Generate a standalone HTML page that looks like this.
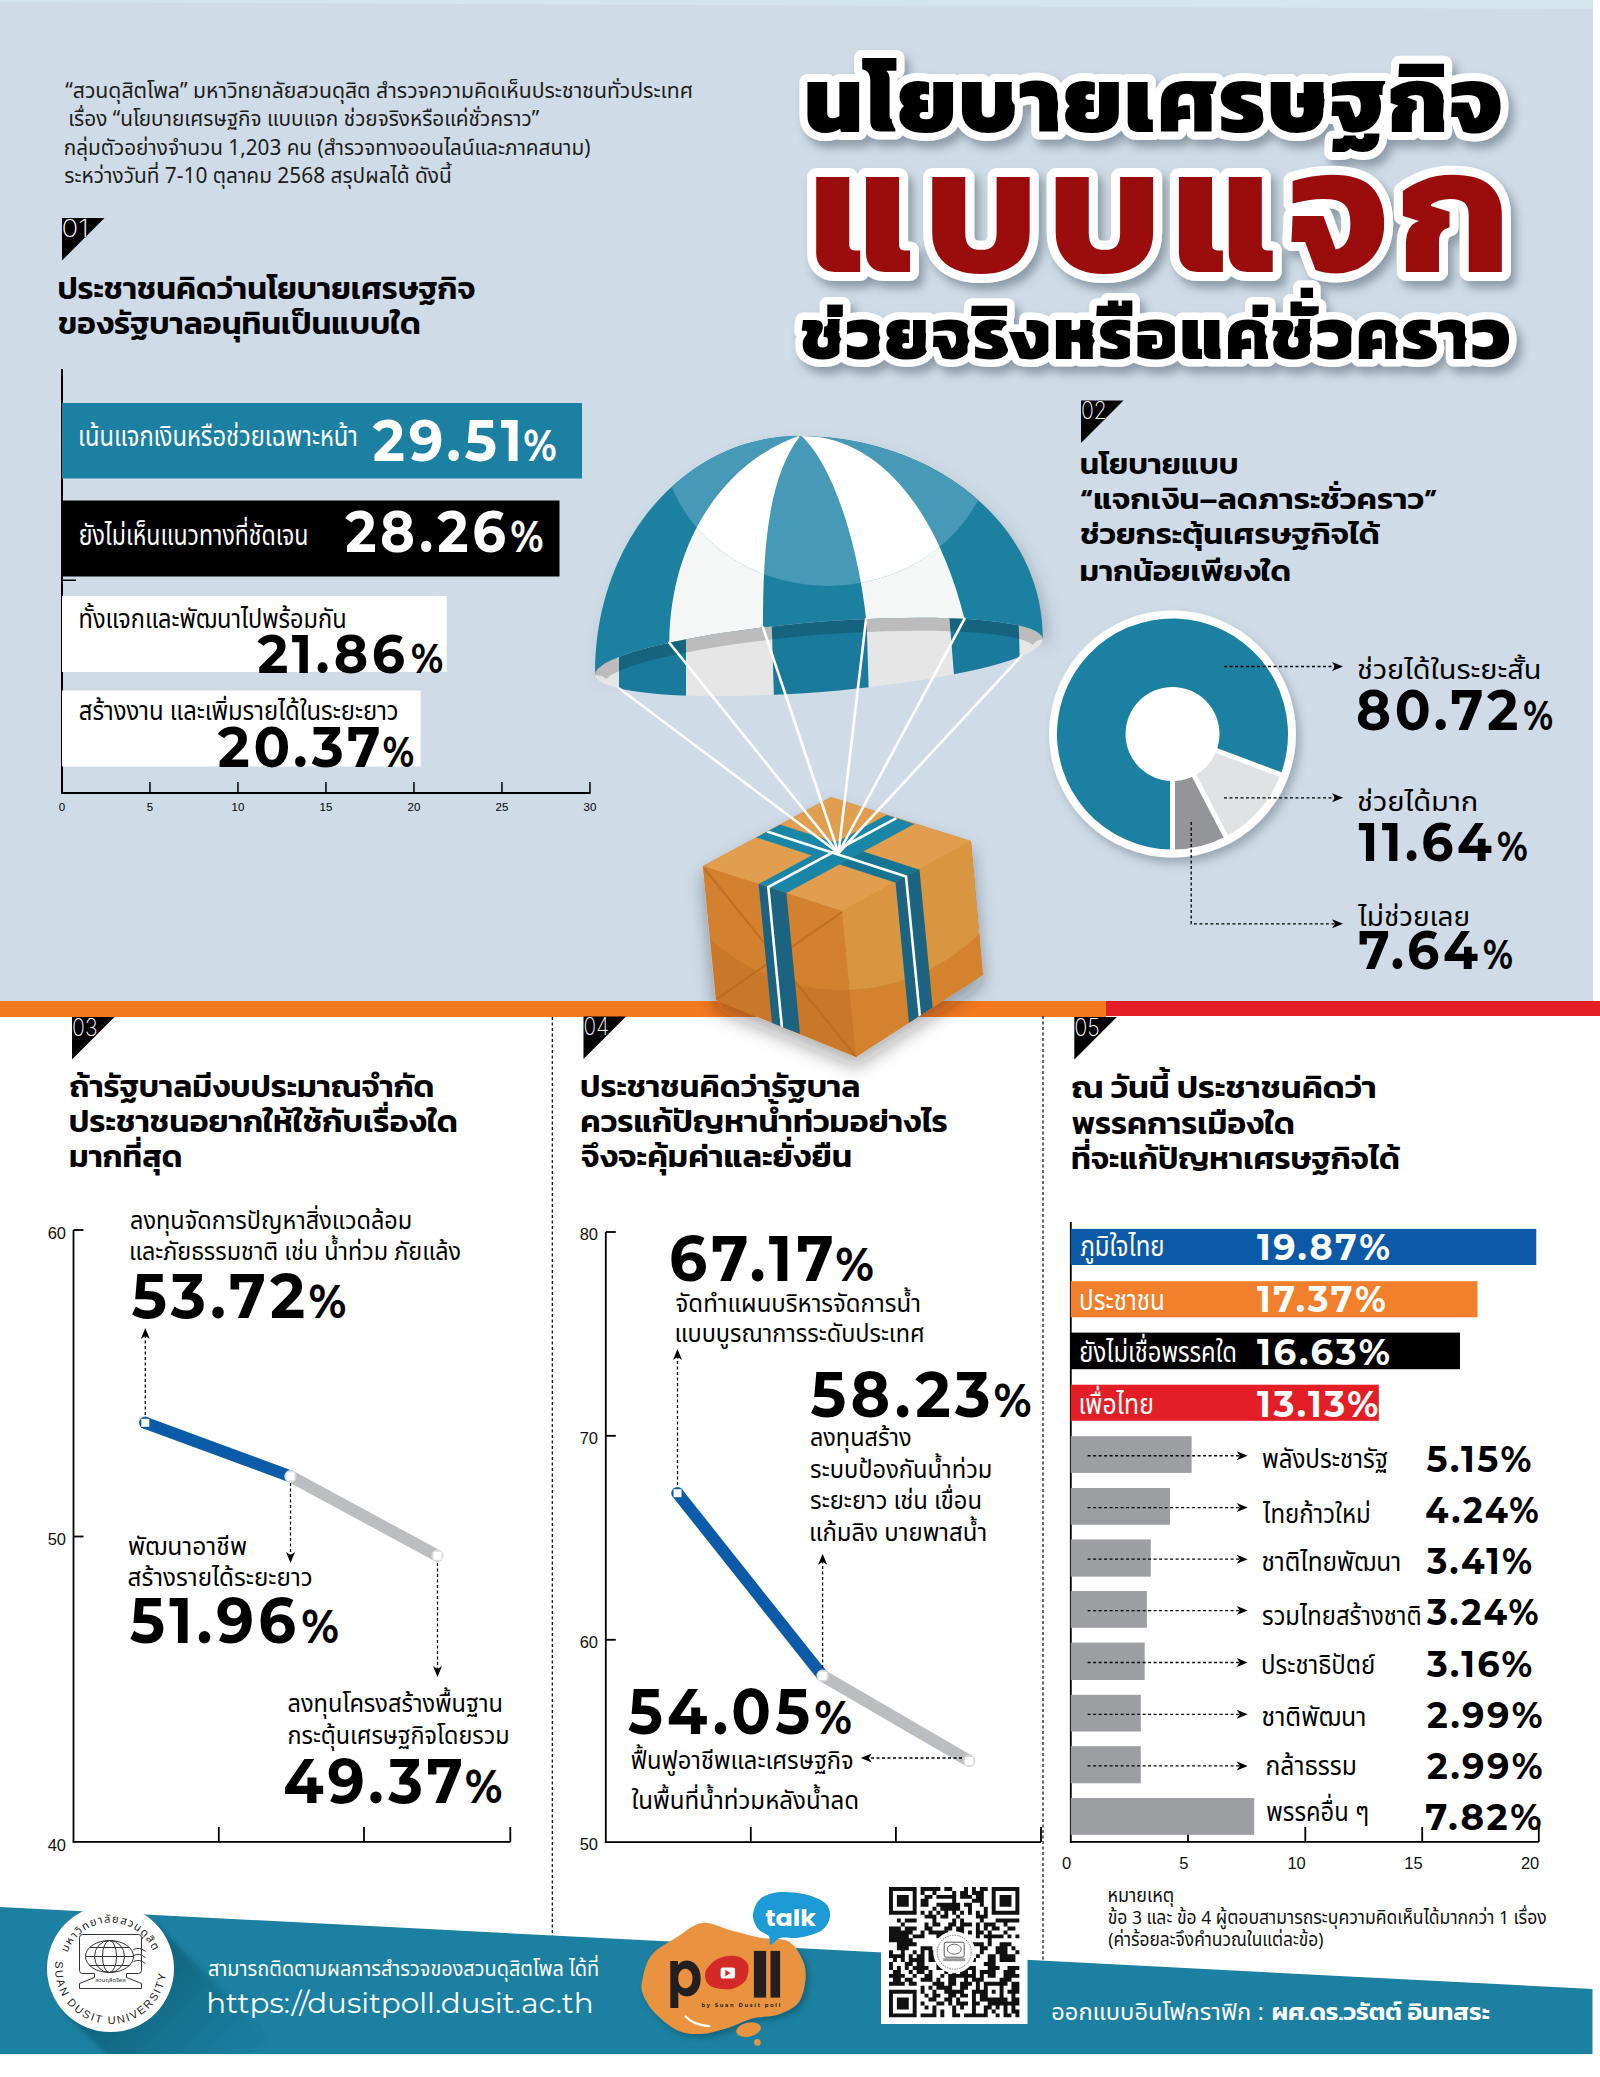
<!DOCTYPE html>
<html lang="th"><head><meta charset="utf-8"><title>นโยบายเศรษฐกิจแบบแจก ช่วยจริงหรือแค่ชั่วคราว</title>
<style>html,body{margin:0;padding:0;background:#fff}svg{display:block}</style></head>
<body><svg width="1600" height="2077" viewBox="0 0 1600 2077">
<defs>
<filter id="tsh" x="-10%" y="-30%" width="120%" height="160%"><feDropShadow dx="5" dy="7" stdDeviation="5" flood-color="#3c4a5a" flood-opacity="0.45"/></filter>
<filter id="dsh" x="-20%" y="-20%" width="150%" height="150%"><feDropShadow dx="4" dy="6" stdDeviation="5" flood-color="#3c4a5a" flood-opacity="0.35"/></filter>
<filter id="psh" x="-20%" y="-20%" width="150%" height="150%"><feDropShadow dx="6" dy="10" stdDeviation="8" flood-color="#3c4a5a" flood-opacity="0.3"/></filter>
<filter id="bsh" x="-30%" y="-30%" width="160%" height="160%"><feDropShadow dx="0" dy="10" stdDeviation="9" flood-color="#1c1c1c" flood-opacity="0.35"/></filter>
<filter id="lsh2" x="-20%" y="-20%" width="150%" height="150%"><feDropShadow dx="3" dy="3" stdDeviation="3" flood-color="#000" flood-opacity="0.25"/></filter>
</defs>
<rect x="0" y="0" width="1600" height="2077" fill="#ffffff"/>
<rect x="0" y="0" width="1593" height="1001" fill="#cfdce7"/>
<polygon points="0,0 1593,0 1593,9 0,2" fill="#d4e5ed"/>
<polygon points="62,218 104.5,218 62,260.5" fill="#000"/>
<rect x="61" y="369" width="2" height="425" fill="#000"/>
<rect x="61" y="792" width="529.5" height="2" fill="#000"/>
<rect x="61" y="579.5" width="15" height="1.5" fill="#000"/>
<rect x="61.2" y="782" width="1.5" height="11" fill="#000"/>
<rect x="149.2" y="782" width="1.5" height="11" fill="#000"/>
<rect x="237.2" y="782" width="1.5" height="11" fill="#000"/>
<rect x="325.2" y="782" width="1.5" height="11" fill="#000"/>
<rect x="413.2" y="782" width="1.5" height="11" fill="#000"/>
<rect x="501.2" y="782" width="1.5" height="11" fill="#000"/>
<rect x="589.2" y="782" width="1.5" height="11" fill="#000"/>
<rect x="62" y="403" width="520" height="75.5" fill="#1b80a1"/>
<rect x="62" y="500.5" width="497.5" height="76" fill="#000"/>
<rect x="62" y="596" width="384.7" height="76" fill="#fff"/>
<rect x="62" y="690.5" width="358.6" height="76" fill="#fff"/>
<polygon points="1081,400.5 1123.5,400.5 1081,443.0" fill="#000"/>
<circle cx="1172.5" cy="734" r="123.5" fill="#fff" filter="url(#dsh)"/>
<path d="M1172.50,849.50 A115.5,115.5 0 1 1 1280.62,774.62 L1172.50,734.00 A0,0 0 1 0 1172.50,734.00 Z" fill="#1b80a1"/>
<path d="M1280.62,774.62 A115.5,115.5 0 0 1 1225.84,836.45 L1172.50,734.00 A0,0 0 0 0 1172.50,734.00 Z" fill="#e1e2e4"/>
<path d="M1225.84,836.45 A115.5,115.5 0 0 1 1172.50,849.50 L1172.50,734.00 A0,0 0 0 0 1172.50,734.00 Z" fill="#949599"/>
<line x1="1172.5" y1="734" x2="1172.50" y2="854.00" stroke="#fff" stroke-width="5"/>
<line x1="1172.5" y1="734" x2="1284.83" y2="776.21" stroke="#fff" stroke-width="5"/>
<line x1="1172.5" y1="734" x2="1227.92" y2="840.44" stroke="#fff" stroke-width="5"/>
<circle cx="1172.5" cy="734" r="47" fill="#fff"/>
<line x1="1224" y1="666.5" x2="1335" y2="666.5" stroke="#000" stroke-width="1.3" stroke-dasharray="3 2.5"/>
<polygon points="1343,666.5 1332,662.0 1335,666.5 1332,671.0" fill="#000"/>
<line x1="1224" y1="797.8" x2="1335" y2="797.8" stroke="#000" stroke-width="1.3" stroke-dasharray="3 2.5"/>
<polygon points="1343,797.8 1332,793.3 1335,797.8 1332,802.3" fill="#000"/>
<polyline points="1191.2,822 1191.2,923.8 1335,923.8" fill="none" stroke="#000" stroke-width="1.3" stroke-dasharray="3 2.5"/>
<polygon points="1343,923.8 1332,919.3 1335,923.8 1332,928.3" fill="#000"/>
<g filter="url(#psh)">
<defs><clipPath id="domeclip"><path d="M595.2,675.0 C594.2,541.2 684.7,436.0 798.5,436.0 C935.3,436.0 1043.8,525.3 1042.8,639.0 L1042.8,639.0 L1041.9,636.3 L1039.6,633.8 L1035.9,631.3 L1031.0,629.1 L1024.7,627.0 L1017.1,625.1 L1008.3,623.4 L998.4,621.9 L987.3,620.7 L975.2,619.6 L962.2,618.8 L948.3,618.2 L933.5,617.8 L918.1,617.7 L902.0,617.9 L885.5,618.3 L868.5,618.9 L851.2,619.7 L833.8,620.8 L816.2,622.1 L798.6,623.6 L781.2,625.4 L764.0,627.3 L747.2,629.4 L730.8,631.7 L714.9,634.1 L699.7,636.7 L685.2,639.4 L671.5,642.2 L658.8,645.1 L647.0,648.0 L636.3,651.1 L626.7,654.1 L618.3,657.2 L611.2,660.3 L605.3,663.3 L600.8,666.4 L597.5,669.3 L595.7,672.2 L595.2,675.0 Z"/></clipPath></defs>
<path d="M595.2,675.0 C594.2,541.2 684.7,436.0 798.5,436.0 C935.3,436.0 1043.8,525.3 1042.8,639.0 L1042.8,639.0 L1041.9,636.3 L1039.6,633.8 L1035.9,631.3 L1031.0,629.1 L1024.7,627.0 L1017.1,625.1 L1008.3,623.4 L998.4,621.9 L987.3,620.7 L975.2,619.6 L962.2,618.8 L948.3,618.2 L933.5,617.8 L918.1,617.7 L902.0,617.9 L885.5,618.3 L868.5,618.9 L851.2,619.7 L833.8,620.8 L816.2,622.1 L798.6,623.6 L781.2,625.4 L764.0,627.3 L747.2,629.4 L730.8,631.7 L714.9,634.1 L699.7,636.7 L685.2,639.4 L671.5,642.2 L658.8,645.1 L647.0,648.0 L636.3,651.1 L626.7,654.1 L618.3,657.2 L611.2,660.3 L605.3,663.3 L600.8,666.4 L597.5,669.3 L595.7,672.2 L595.2,675.0 Z" fill="#1b80a1"/>
</g>
<g clip-path="url(#domeclip)">
<path d="M798.5,436.0 C725,462 670,540 669.3,642.7 L763.0,627.4 C763,560 766,480 799.5,437.0 Z" fill="#f5f7f7"/>
<path d="M801.5,436.0 C838,470 860,560 866.1,619.0 L964.5,618.9 C945,540 900,450 818.5,437.0 Z" fill="#f5f7f7"/>
<clipPath id="hlc"><ellipse cx="828" cy="436" rx="166" ry="150"/></clipPath>
<g clip-path="url(#hlc)">
<path d="M595.2,675.0 C594.2,541.2 684.7,436.0 798.5,436.0 C935.3,436.0 1043.8,525.3 1042.8,639.0 L1042.8,639.0 L1041.9,636.3 L1039.6,633.8 L1035.9,631.3 L1031.0,629.1 L1024.7,627.0 L1017.1,625.1 L1008.3,623.4 L998.4,621.9 L987.3,620.7 L975.2,619.6 L962.2,618.8 L948.3,618.2 L933.5,617.8 L918.1,617.7 L902.0,617.9 L885.5,618.3 L868.5,618.9 L851.2,619.7 L833.8,620.8 L816.2,622.1 L798.6,623.6 L781.2,625.4 L764.0,627.3 L747.2,629.4 L730.8,631.7 L714.9,634.1 L699.7,636.7 L685.2,639.4 L671.5,642.2 L658.8,645.1 L647.0,648.0 L636.3,651.1 L626.7,654.1 L618.3,657.2 L611.2,660.3 L605.3,663.3 L600.8,666.4 L597.5,669.3 L595.7,672.2 L595.2,675.0 Z" fill="#4699b7"/>
<path d="M798.5,436.0 C725,462 670,540 669.3,642.7 L763.0,627.4 C763,560 766,480 799.5,437.0 Z" fill="#ffffff"/>
<path d="M801.5,436.0 C838,470 860,560 866.1,619.0 L964.5,618.9 C945,540 900,450 818.5,437.0 Z" fill="#ffffff"/>
</g>
</g>
<clipPath id="inclip"><path d="M1042.8,639.0 L1042.3,641.8 L1040.5,644.7 L1037.2,647.6 L1032.7,650.7 L1026.8,653.7 L1019.7,656.8 L1011.3,659.9 L1001.7,662.9 L991.0,666.0 L979.2,668.9 L966.5,671.8 L952.8,674.6 L938.3,677.3 L923.1,679.9 L907.2,682.3 L890.8,684.6 L874.0,686.7 L856.8,688.6 L839.4,690.4 L821.8,691.9 L804.2,693.2 L786.8,694.3 L769.5,695.1 L752.5,695.7 L736.0,696.1 L719.9,696.3 L704.5,696.2 L689.7,695.8 L675.8,695.2 L662.8,694.4 L650.7,693.3 L639.6,692.1 L629.7,690.6 L620.9,688.9 L613.3,687.0 L607.0,684.9 L602.1,682.7 L598.4,680.2 L596.1,677.7 L595.2,675.0 L595.7,672.2 L597.5,669.3 L600.8,666.4 L605.3,663.3 L611.2,660.3 L618.3,657.2 L626.7,654.1 L636.3,651.1 L647.0,648.0 L658.8,645.1 L671.5,642.2 L685.2,639.4 L699.7,636.7 L714.9,634.1 L730.8,631.7 L747.2,629.4 L764.0,627.3 L781.2,625.4 L798.6,623.6 L816.2,622.1 L833.8,620.8 L851.2,619.7 L868.5,618.9 L885.5,618.3 L902.0,617.9 L918.1,617.7 L933.5,617.8 L948.3,618.2 L962.2,618.8 L975.2,619.6 L987.3,620.7 L998.4,621.9 L1008.3,623.4 L1017.1,625.1 L1024.7,627.0 L1031.0,629.1 L1035.9,631.3 L1039.6,633.8 L1041.9,636.3 L1042.8,639.0 Z"/></clipPath>
<g clip-path="url(#inclip)">
<path d="M1042.8,639.0 L1042.3,641.8 L1040.5,644.7 L1037.2,647.6 L1032.7,650.7 L1026.8,653.7 L1019.7,656.8 L1011.3,659.9 L1001.7,662.9 L991.0,666.0 L979.2,668.9 L966.5,671.8 L952.8,674.6 L938.3,677.3 L923.1,679.9 L907.2,682.3 L890.8,684.6 L874.0,686.7 L856.8,688.6 L839.4,690.4 L821.8,691.9 L804.2,693.2 L786.8,694.3 L769.5,695.1 L752.5,695.7 L736.0,696.1 L719.9,696.3 L704.5,696.2 L689.7,695.8 L675.8,695.2 L662.8,694.4 L650.7,693.3 L639.6,692.1 L629.7,690.6 L620.9,688.9 L613.3,687.0 L607.0,684.9 L602.1,682.7 L598.4,680.2 L596.1,677.7 L595.2,675.0 L595.7,672.2 L597.5,669.3 L600.8,666.4 L605.3,663.3 L611.2,660.3 L618.3,657.2 L626.7,654.1 L636.3,651.1 L647.0,648.0 L658.8,645.1 L671.5,642.2 L685.2,639.4 L699.7,636.7 L714.9,634.1 L730.8,631.7 L747.2,629.4 L764.0,627.3 L781.2,625.4 L798.6,623.6 L816.2,622.1 L833.8,620.8 L851.2,619.7 L868.5,618.9 L885.5,618.3 L902.0,617.9 L918.1,617.7 L933.5,617.8 L948.3,618.2 L962.2,618.8 L975.2,619.6 L987.3,620.7 L998.4,621.9 L1008.3,623.4 L1017.1,625.1 L1024.7,627.0 L1031.0,629.1 L1035.9,631.3 L1039.6,633.8 L1041.9,636.3 L1042.8,639.0 Z" fill="#e6e6e7"/>
<polygon points="619.0,600.0 686.0,600.0 686.0,700.0 619.0,700.0" fill="#1a7a9b"/>
<polygon points="771.0,600.0 866.0,600.0 869.0,700.0 774.0,700.0" fill="#1a7a9b"/>
<polygon points="948.0,600.0 1018.0,600.0 1021.0,700.0 956.0,700.0" fill="#1a7a9b"/>
<path d="M1042.8,639.0 L1041.9,636.3 L1039.6,633.8 L1035.9,631.3 L1031.0,629.1 L1024.7,627.0 L1017.1,625.1 L1008.3,623.4 L998.4,621.9 L987.3,620.7 L975.2,619.6 L962.2,618.8 L948.3,618.2 L933.5,617.8 L918.1,617.7 L902.0,617.9 L885.5,618.3 L868.5,618.9 L851.2,619.7 L833.8,620.8 L816.2,622.1 L798.6,623.6 L781.2,625.4 L764.0,627.3 L747.2,629.4 L730.8,631.7 L714.9,634.1 L699.7,636.7 L685.2,639.4 L671.5,642.2 L658.8,645.1 L647.0,648.0 L636.3,651.1 L626.7,654.1 L618.3,657.2 L611.2,660.3 L605.3,663.3 L600.8,666.4 L597.5,669.3 L595.7,672.2 L595.2,675.0" fill="none" stroke="#000" stroke-opacity="0.18" stroke-width="26"/>
</g>
<rect x="0" y="1001" width="1106" height="16" fill="#f47a20"/>
<rect x="1106" y="1001" width="494" height="15" fill="#e41f26"/>
<g filter="url(#bsh)">
<polygon points="831.0,797.0 971.0,841.0 983.0,975.0 856.0,1057.0 716.0,1000.0 703.0,866.0" fill="#d4822f"/>
</g>
<clipPath id="boxclip"><polygon points="831.0,797.0 971.0,841.0 983.0,975.0 856.0,1057.0 716.0,1000.0 703.0,866.0"/></clipPath>
<g clip-path="url(#boxclip)">
<polygon points="703.0,866.0 842.0,911.0 856.0,1057.0 716.0,1000.0" fill="#c97729"/>
<polygon points="842.0,911.0 971.0,841.0 983.0,975.0 856.0,1057.0" fill="#d4822e"/>
<clipPath id="lfc"><polygon points="703.0,866.0 842.0,911.0 856.0,1057.0 716.0,1000.0"/></clipPath>
<clipPath id="rfc"><polygon points="842.0,911.0 971.0,841.0 983.0,975.0 856.0,1057.0"/></clipPath>
<circle cx="842" cy="795" r="195" fill="#d3802f" clip-path="url(#lfc)"/>
<circle cx="842" cy="795" r="195" fill="#d89640" clip-path="url(#rfc)"/>
<line x1="704" y1="868" x2="856" y2="1057" stroke="#b8661f" stroke-width="2" stroke-opacity="0.7"/>
<line x1="842" y1="912" x2="717" y2="999" stroke="#b8661f" stroke-width="2" stroke-opacity="0.7"/>
<polygon points="703.0,866.0 831.0,797.0 971.0,841.0 842.0,911.0" fill="#e09e4e"/>
<polygon points="756.1,837.4 779.8,824.6 918.8,869.6 895.1,882.4" fill="#1a86a7"/>
<polygon points="758.6,884.0 786.4,893.0 914.4,824.0 886.6,815.0" fill="#1a86a7"/>
<polygon points="839.5,864.4 863.2,851.6 918.8,869.6 895.1,882.4" fill="#000" fill-opacity="0.12"/>
<polygon points="895.5,882.0 919.4,869.0 934.1,1022.3 910.2,1035.2" fill="#1b6380"/>
<polygon points="758.6,884.0 786.4,893.0 800.0,1033.7 772.2,1024.7" fill="#1b6380"/>
<polyline points="767.0,831.5 906.0,876.5 921.9,1036.6" fill="none" stroke="#fff" stroke-width="2.6"/>
<polyline points="896.3,818.1 768.3,887.1 782.6,1034.5" fill="none" stroke="#fff" stroke-width="2.6"/>
</g>
<line x1="619.4" y1="688.5" x2="838.5" y2="853.0" stroke="#fff" stroke-width="2.6" stroke-linecap="round"/>
<line x1="669.3" y1="642.7" x2="838.5" y2="853.0" stroke="#fff" stroke-width="2.6" stroke-linecap="round"/>
<line x1="763.0" y1="627.4" x2="838.5" y2="853.0" stroke="#fff" stroke-width="2.6" stroke-linecap="round"/>
<line x1="866.1" y1="619.0" x2="838.5" y2="853.0" stroke="#fff" stroke-width="2.6" stroke-linecap="round"/>
<line x1="964.5" y1="618.9" x2="838.5" y2="853.0" stroke="#fff" stroke-width="2.6" stroke-linecap="round"/>
<line x1="1021.1" y1="656.2" x2="838.5" y2="853.0" stroke="#fff" stroke-width="2.6" stroke-linecap="round"/>
<line x1="552.3" y1="1017" x2="552.3" y2="1936" stroke="#000" stroke-width="1.2" stroke-dasharray="3 2.5"/>
<line x1="1043" y1="1016" x2="1043" y2="1961" stroke="#000" stroke-width="1.2" stroke-dasharray="3 2.5"/>
<polygon points="72,1017 114.5,1017 72,1059.5" fill="#000"/>
<rect x="72.6" y="1230" width="1.8" height="612.5" fill="#000"/>
<rect x="72.6" y="1841" width="437.7" height="1.8" fill="#000"/>
<rect x="73.5" y="1229.1" width="10" height="1.8" fill="#000"/>
<rect x="73.5" y="1535.6" width="10" height="1.8" fill="#000"/>
<rect x="217.9" y="1827" width="1.8" height="15" fill="#000"/>
<rect x="363.1" y="1827" width="1.8" height="15" fill="#000"/>
<rect x="509.40000000000003" y="1827" width="1.8" height="15" fill="#000"/>
<line x1="290.5" y1="1476.3" x2="437.5" y2="1555.8" stroke="#bcbdc0" stroke-width="12" stroke-linecap="butt"/>
<line x1="145.3" y1="1422.8" x2="290.5" y2="1476.3" stroke="#0b5ba8" stroke-width="12" stroke-linecap="butt"/>
<circle cx="145.3" cy="1422.8" r="6.2" fill="#0b5ba8"/>
<rect x="141.3" y="1418.8" width="8" height="8" fill="#fff"/>
<circle cx="290.5" cy="1476.3" r="6.2" fill="#d9dadc"/>
<rect x="286.5" y="1472.3" width="8" height="8" fill="#fff"/>
<circle cx="437.5" cy="1555.8" r="6.2" fill="#d9dadc"/>
<rect x="433.5" y="1551.8" width="8" height="8" fill="#fff"/>
<line x1="145.3" y1="1415" x2="145.3" y2="1336" stroke="#000" stroke-width="1.3" stroke-dasharray="3 2.5"/>
<polygon points="145.3,1328 140.8,1339 145.3,1336 149.8,1339" fill="#000"/>
<line x1="290.5" y1="1483" x2="290.5" y2="1555" stroke="#000" stroke-width="1.3" stroke-dasharray="3 2.5"/>
<polygon points="290.5,1563 286.0,1552 290.5,1555 295.0,1552" fill="#000"/>
<line x1="437.5" y1="1563" x2="437.5" y2="1669" stroke="#000" stroke-width="1.3" stroke-dasharray="3 2.5"/>
<polygon points="437.5,1677 433.0,1666 437.5,1669 442.0,1666" fill="#000"/>
<polygon points="583.5,1016.5 626.0,1016.5 583.5,1059.0" fill="#000"/>
<rect x="604.9" y="1232" width="1.8" height="611" fill="#000"/>
<rect x="604.9" y="1841.2" width="436.1" height="1.8" fill="#000"/>
<rect x="605.8" y="1231.1" width="10" height="1.8" fill="#000"/>
<rect x="605.8" y="1434.8999999999999" width="10" height="1.8" fill="#000"/>
<rect x="605.8" y="1638.8999999999999" width="10" height="1.8" fill="#000"/>
<rect x="749.9" y="1827" width="1.8" height="15" fill="#000"/>
<rect x="895.0" y="1827" width="1.8" height="15" fill="#000"/>
<rect x="1040.1" y="1827" width="1.8" height="15" fill="#000"/>
<line x1="822.6" y1="1675.8" x2="969.2" y2="1761" stroke="#bcbdc0" stroke-width="12" stroke-linecap="butt"/>
<line x1="677.5" y1="1493.2" x2="822.6" y2="1675.8" stroke="#0b5ba8" stroke-width="12" stroke-linecap="butt"/>
<circle cx="677.5" cy="1493.2" r="6.2" fill="#0b5ba8"/>
<rect x="673.5" y="1489.2" width="8" height="8" fill="#fff"/>
<circle cx="822.6" cy="1675.8" r="6.2" fill="#d9dadc"/>
<rect x="818.6" y="1671.8" width="8" height="8" fill="#fff"/>
<circle cx="969.2" cy="1761" r="6.2" fill="#d9dadc"/>
<rect x="965.2" y="1757" width="8" height="8" fill="#fff"/>
<line x1="677.5" y1="1485" x2="677.5" y2="1357" stroke="#000" stroke-width="1.3" stroke-dasharray="3 2.5"/>
<polygon points="677.5,1349 673.0,1360 677.5,1357 682.0,1360" fill="#000"/>
<line x1="822.6" y1="1668" x2="822.6" y2="1561.7" stroke="#000" stroke-width="1.3" stroke-dasharray="3 2.5"/>
<polygon points="822.6,1553.7 818.1,1564.7 822.6,1561.7 827.1,1564.7" fill="#000"/>
<line x1="962" y1="1758" x2="868.8" y2="1758" stroke="#000" stroke-width="1.3" stroke-dasharray="3 2.5"/>
<polygon points="860.8,1758 871.8,1753.5 868.8,1758 871.8,1762.5" fill="#000"/>
<polygon points="1074.3,1017 1116.8,1017 1074.3,1059.5" fill="#000"/>
<rect x="1069.8999999999999" y="1222" width="1.8" height="621" fill="#000"/>
<rect x="1069.8999999999999" y="1841" width="468.9" height="1.8" fill="#000"/>
<rect x="1187.1" y="1827" width="1.8" height="15" fill="#000"/>
<rect x="1304.3999999999999" y="1827" width="1.8" height="15" fill="#000"/>
<rect x="1421.3" y="1827" width="1.8" height="15" fill="#000"/>
<rect x="1537.8999999999999" y="1827" width="1.8" height="15" fill="#000"/>
<rect x="1070.8" y="1228.9" width="465.5" height="36.1" fill="#0c5aa7"/>
<rect x="1070.8" y="1281.2" width="406.7" height="36.1" fill="#f27f2b"/>
<rect x="1070.8" y="1332.6" width="389.2" height="36.6" fill="#000"/>
<rect x="1070.8" y="1384.7" width="308.0" height="36.1" fill="#e31e26"/>
<rect x="1070.8" y="1436.2" width="120.8" height="36.7" fill="#9d9ea2"/>
<line x1="1087.6" y1="1455.7500000000002" x2="1239.7" y2="1455.7500000000002" stroke="#000" stroke-width="1.3" stroke-dasharray="3 2.5"/>
<polygon points="1247.7,1455.7500000000002 1236.7,1451.2500000000002 1239.7,1455.7500000000002 1236.7,1460.2500000000002" fill="#000"/>
<rect x="1070.8" y="1488" width="99.2" height="36.7" fill="#9d9ea2"/>
<line x1="1087.6" y1="1507.55" x2="1239.7" y2="1507.55" stroke="#000" stroke-width="1.3" stroke-dasharray="3 2.5"/>
<polygon points="1247.7,1507.55 1236.7,1503.05 1239.7,1507.55 1236.7,1512.05" fill="#000"/>
<rect x="1070.8" y="1539.4" width="80.0" height="37.2" fill="#9d9ea2"/>
<line x1="1087.6" y1="1559.2" x2="1239.7" y2="1559.2" stroke="#000" stroke-width="1.3" stroke-dasharray="3 2.5"/>
<polygon points="1247.7,1559.2 1236.7,1554.7 1239.7,1559.2 1236.7,1563.7" fill="#000"/>
<rect x="1070.8" y="1591" width="76.1" height="36.8" fill="#9d9ea2"/>
<line x1="1087.6" y1="1610.6000000000001" x2="1239.7" y2="1610.6000000000001" stroke="#000" stroke-width="1.3" stroke-dasharray="3 2.5"/>
<polygon points="1247.7,1610.6000000000001 1236.7,1606.1000000000001 1239.7,1610.6000000000001 1236.7,1615.1000000000001" fill="#000"/>
<rect x="1070.8" y="1642.6" width="73.9" height="37.4" fill="#9d9ea2"/>
<line x1="1087.6" y1="1662.5" x2="1239.7" y2="1662.5" stroke="#000" stroke-width="1.3" stroke-dasharray="3 2.5"/>
<polygon points="1247.7,1662.5 1236.7,1658.0 1239.7,1662.5 1236.7,1667.0" fill="#000"/>
<rect x="1070.8" y="1694.8" width="70.0" height="36.7" fill="#9d9ea2"/>
<line x1="1087.6" y1="1714.3500000000001" x2="1239.7" y2="1714.3500000000001" stroke="#000" stroke-width="1.3" stroke-dasharray="3 2.5"/>
<polygon points="1247.7,1714.3500000000001 1236.7,1709.8500000000001 1239.7,1714.3500000000001 1236.7,1718.8500000000001" fill="#000"/>
<rect x="1070.8" y="1746.2" width="70.0" height="37.1" fill="#9d9ea2"/>
<line x1="1087.6" y1="1765.95" x2="1239.7" y2="1765.95" stroke="#000" stroke-width="1.3" stroke-dasharray="3 2.5"/>
<polygon points="1247.7,1765.95 1236.7,1761.45 1239.7,1765.95 1236.7,1770.45" fill="#000"/>
<rect x="1070.8" y="1798" width="183.4" height="36.8" fill="#9d9ea2"/>
<polygon points="0,1907 1592.5,1989 1592.5,2054 0,2054" fill="#1b80a1"/>
<defs><linearGradient id="lsg" x1="0" y1="0" x2="1" y2="1"><stop offset="0" stop-color="#0e3f52" stop-opacity="0.75"/><stop offset="0.45" stop-color="#0e3f52" stop-opacity="0.25"/><stop offset="0.75" stop-color="#0e3f52" stop-opacity="0"/></linearGradient><filter id="lsblur" x="-20%" y="-20%" width="140%" height="140%"><feGaussianBlur stdDeviation="2.5"/></filter><clipPath id="footclip"><polygon points="0,1907 1592.5,1989 1592.5,2054 0,2054"/></clipPath></defs>
<g clip-path="url(#footclip)"><polygon points="65.6,2013.4 155.4,1923.6 280.4,2048.6 190.6,2138.4" fill="url(#lsg)" filter="url(#lsblur)"/></g>
<circle cx="110.5" cy="1968.5" r="63.5" fill="#fff"/>
<path id="lgtop" d="M67.3,1952.8 A46,46 0 0 1 153.7,1952.8" fill="none"/>
<path id="lgbot" d="M60.0,1961.4 A51,51 0 1 0 161.0,1961.4" fill="none"/>
<text font-family="'Noto Sans Thai', sans-serif" font-size="11" fill="#222"><textPath href="#lgtop" textLength="110.2" lengthAdjust="spacing">มหาวิทยาลัยสวนดุสิต</textPath></text>
<text font-family="'Liberation Sans', sans-serif" font-size="11" fill="#222" dy="4.5"><textPath href="#lgbot" textLength="162.3" lengthAdjust="spacing">SUAN DUSIT UNIVERSITY</textPath></text>
<g fill="none" stroke="#333" stroke-width="1"><path d="M82.5,1934.5 h56 a3,3 0 0 1 3,3 v33 a3,3 0 0 1 -3,3 h-12 v4 l15,6 v5 h-62 v-5 l15,-6 v-4 h-12 a3,3 0 0 1 -3,-3 v-33 a3,3 0 0 1 3,-3 z"/><ellipse cx="109.5" cy="1956.5" rx="24" ry="16"/><ellipse cx="109.5" cy="1956.5" rx="15" ry="16"/><ellipse cx="109.5" cy="1956.5" rx="7" ry="16"/><path d="M89.5,1947.5 h40 M85.5,1956.5 h48 M89.5,1965.5 h40"/><path d="M133.5,1949.5 q6,-3 12,2 M133.5,1955.5 q6,-3 12,2 M133.5,1961.5 q6,-3 12,2"/></g>
<text x="110.5" y="1981.5" font-family="'Noto Sans Thai', sans-serif" font-size="6" fill="#333" text-anchor="middle">สวนดุสิตโพล</text>
<path d="M642.8,1978.0 C644.2,1971.6 646.0,1962.0 651.5,1955.2 C657.0,1948.5 667.5,1943.1 676.0,1937.8 C684.5,1932.4 692.9,1924.0 702.2,1922.9 C711.6,1921.7 722.4,1928.3 732.0,1930.8 C741.6,1933.2 750.7,1936.0 760.0,1937.8 C769.3,1939.5 781.0,1937.8 788.0,1941.2 C795.0,1944.8 799.1,1952.6 802.0,1958.8 C804.9,1964.9 806.1,1970.7 805.5,1978.0 C804.9,1985.3 803.2,1996.4 798.5,2002.5 C793.8,2008.6 785.1,2012.1 777.5,2014.8 C769.9,2017.4 761.8,2015.9 753.0,2018.2 C744.2,2020.6 733.8,2026.1 725.0,2028.8 C716.2,2031.4 708.4,2033.7 700.5,2034.0 C692.6,2034.3 685.3,2034.0 677.8,2030.5 C670.2,2027.0 660.8,2019.1 655.0,2013.0 C649.2,2006.9 644.8,1999.6 642.8,1993.8 C640.7,1987.9 641.3,1984.4 642.8,1978.0 Z" fill="#e99340" filter="url(#lsh2)"/>
<ellipse cx="748.6" cy="2029.6" rx="12.5" ry="7" fill="#e99340" transform="rotate(-12 748.6 2029.6)"/>
<circle cx="757.4" cy="2042.4" r="3.3" fill="#e99340"/>
<path d="M685.6,2016.5 Q693.5,2025.2 709.2,2026.1" stroke="#fff" stroke-width="2.2" fill="none" stroke-linecap="round"/>
<path d="M753.0,1915.0 C753.3,1910.0 755.9,1903.0 760.0,1899.2 C764.1,1895.5 770.2,1893.1 777.5,1892.2 C784.8,1891.4 795.9,1892.2 803.8,1894.0 C811.6,1895.8 820.4,1899.0 824.8,1902.8 C829.1,1906.5 830.6,1912.1 830.0,1916.8 C829.4,1921.4 826.5,1927.2 821.2,1930.8 C816.0,1934.2 805.2,1936.6 798.5,1937.8 C791.8,1938.9 785.7,1936.6 781.0,1937.8 C776.3,1938.9 772.5,1945.0 770.5,1944.8 C768.5,1944.5 770.8,1938.6 768.8,1936.0 C766.7,1933.4 760.9,1932.5 758.2,1929.0 C755.6,1925.5 752.7,1920.0 753.0,1915.0 Z" fill="#1c9bd7"/>
<text x="765.2" y="1925.8" font-family="Poppins, 'Liberation Sans', sans-serif" font-weight="700" font-size="23" fill="#fff" textLength="50.8" lengthAdjust="spacingAndGlyphs">talk</text>
<text x="666.4" y="1996.4" font-family="Montserrat, 'Liberation Sans', sans-serif" font-weight="700" font-size="64" fill="#231f20" textLength="35.9" lengthAdjust="spacingAndGlyphs">p</text>
<path d="M705.8,1971.0 C707.5,1966.9 713.0,1961.2 718.0,1958.8 C723.0,1956.3 730.5,1955.2 735.5,1956.1 C740.5,1957.0 746.0,1960.1 747.8,1964.0 C749.5,1967.9 748.3,1975.7 746.0,1979.8 C743.7,1983.8 738.4,1987.0 733.8,1988.5 C729.1,1990.0 722.4,1989.4 718.0,1988.5 C713.6,1987.6 709.5,1986.2 707.5,1983.2 C705.5,1980.3 704.0,1975.1 705.8,1971.0 Z" fill="#d42a27"/>
<rect x="720.6" y="1967.5" width="14.5" height="11" rx="2.5" fill="#fff"/>
<polygon points="725.3,1969.7 730.6,1973.0 725.3,1976.3" fill="#d42a27"/>
<rect x="753.9" y="1950.9" width="12.2" height="46.7" fill="#231f20"/>
<rect x="770.5" y="1950.9" width="9.6" height="46.7" fill="#231f20"/>
<text x="701.4" y="2006.9" font-family="Montserrat, 'Liberation Sans', sans-serif" font-weight="700" font-size="5.2" fill="#231f20" textLength="78.8" lengthAdjust="spacing">by Suan Dusit poll</text>
<rect x="881" y="1885" width="146.5" height="139" fill="#fff"/>
<path d="M889.00,1887.00h27.65v3.95h-27.65zM920.60,1887.00h19.75v3.95h-19.75zM944.30,1887.00h7.90v3.95h-7.90zM964.05,1887.00h3.95v3.95h-3.95zM971.95,1887.00h3.95v3.95h-3.95zM979.85,1887.00h7.90v3.95h-7.90zM991.70,1887.00h27.65v3.95h-27.65zM889.00,1890.95h3.95v3.95h-3.95zM912.70,1890.95h3.95v3.95h-3.95zM920.60,1890.95h3.95v3.95h-3.95zM932.45,1890.95h3.95v3.95h-3.95zM952.20,1890.95h3.95v3.95h-3.95zM960.10,1890.95h7.90v3.95h-7.90zM971.95,1890.95h11.85v3.95h-11.85zM991.70,1890.95h3.95v3.95h-3.95zM1015.40,1890.95h3.95v3.95h-3.95zM889.00,1894.90h3.95v3.95h-3.95zM896.90,1894.90h11.85v3.95h-11.85zM912.70,1894.90h3.95v3.95h-3.95zM924.55,1894.90h7.90v3.95h-7.90zM936.40,1894.90h19.75v3.95h-19.75zM960.10,1894.90h11.85v3.95h-11.85zM975.90,1894.90h7.90v3.95h-7.90zM991.70,1894.90h3.95v3.95h-3.95zM999.60,1894.90h11.85v3.95h-11.85zM1015.40,1894.90h3.95v3.95h-3.95zM889.00,1898.85h3.95v3.95h-3.95zM896.90,1898.85h11.85v3.95h-11.85zM912.70,1898.85h3.95v3.95h-3.95zM920.60,1898.85h7.90v3.95h-7.90zM952.20,1898.85h3.95v3.95h-3.95zM971.95,1898.85h11.85v3.95h-11.85zM991.70,1898.85h3.95v3.95h-3.95zM999.60,1898.85h11.85v3.95h-11.85zM1015.40,1898.85h3.95v3.95h-3.95zM889.00,1902.80h3.95v3.95h-3.95zM896.90,1902.80h11.85v3.95h-11.85zM912.70,1902.80h3.95v3.95h-3.95zM920.60,1902.80h7.90v3.95h-7.90zM936.40,1902.80h23.70v3.95h-23.70zM964.05,1902.80h7.90v3.95h-7.90zM979.85,1902.80h3.95v3.95h-3.95zM991.70,1902.80h3.95v3.95h-3.95zM999.60,1902.80h11.85v3.95h-11.85zM1015.40,1902.80h3.95v3.95h-3.95zM889.00,1906.75h3.95v3.95h-3.95zM912.70,1906.75h3.95v3.95h-3.95zM932.45,1906.75h3.95v3.95h-3.95zM940.35,1906.75h19.75v3.95h-19.75zM968.00,1906.75h3.95v3.95h-3.95zM983.80,1906.75h3.95v3.95h-3.95zM991.70,1906.75h3.95v3.95h-3.95zM1015.40,1906.75h3.95v3.95h-3.95zM889.00,1910.70h27.65v3.95h-27.65zM920.60,1910.70h3.95v3.95h-3.95zM928.50,1910.70h3.95v3.95h-3.95zM936.40,1910.70h3.95v3.95h-3.95zM944.30,1910.70h3.95v3.95h-3.95zM952.20,1910.70h3.95v3.95h-3.95zM960.10,1910.70h3.95v3.95h-3.95zM968.00,1910.70h3.95v3.95h-3.95zM975.90,1910.70h3.95v3.95h-3.95zM983.80,1910.70h3.95v3.95h-3.95zM991.70,1910.70h27.65v3.95h-27.65zM924.55,1914.65h11.85v3.95h-11.85zM940.35,1914.65h7.90v3.95h-7.90zM956.15,1914.65h3.95v3.95h-3.95zM975.90,1914.65h11.85v3.95h-11.85zM896.90,1918.60h3.95v3.95h-3.95zM904.80,1918.60h11.85v3.95h-11.85zM932.45,1918.60h3.95v3.95h-3.95zM952.20,1918.60h3.95v3.95h-3.95zM960.10,1918.60h3.95v3.95h-3.95zM979.85,1918.60h3.95v3.95h-3.95zM995.65,1918.60h23.70v3.95h-23.70zM900.85,1922.55h3.95v3.95h-3.95zM924.55,1922.55h3.95v3.95h-3.95zM932.45,1922.55h7.90v3.95h-7.90zM948.25,1922.55h7.90v3.95h-7.90zM960.10,1922.55h11.85v3.95h-11.85zM975.90,1922.55h3.95v3.95h-3.95zM983.80,1922.55h11.85v3.95h-11.85zM1003.55,1922.55h3.95v3.95h-3.95zM889.00,1926.50h11.85v3.95h-11.85zM904.80,1926.50h11.85v3.95h-11.85zM924.55,1926.50h7.90v3.95h-7.90zM944.30,1926.50h7.90v3.95h-7.90zM956.15,1926.50h7.90v3.95h-7.90zM975.90,1926.50h3.95v3.95h-3.95zM983.80,1926.50h3.95v3.95h-3.95zM991.70,1926.50h7.90v3.95h-7.90zM1007.50,1926.50h7.90v3.95h-7.90zM889.00,1930.45h23.70v3.95h-23.70zM920.60,1930.45h3.95v3.95h-3.95zM928.50,1930.45h19.75v3.95h-19.75zM956.15,1930.45h7.90v3.95h-7.90zM968.00,1930.45h3.95v3.95h-3.95zM975.90,1930.45h7.90v3.95h-7.90zM987.75,1930.45h3.95v3.95h-3.95zM1003.55,1930.45h3.95v3.95h-3.95zM889.00,1934.40h19.75v3.95h-19.75zM912.70,1934.40h11.85v3.95h-11.85zM936.40,1934.40h27.65v3.95h-27.65zM975.90,1934.40h3.95v3.95h-3.95zM983.80,1934.40h19.75v3.95h-19.75zM1007.50,1934.40h3.95v3.95h-3.95zM1015.40,1934.40h3.95v3.95h-3.95zM889.00,1938.35h23.70v3.95h-23.70zM940.35,1938.35h7.90v3.95h-7.90zM952.20,1938.35h3.95v3.95h-3.95zM964.05,1938.35h3.95v3.95h-3.95zM987.75,1938.35h3.95v3.95h-3.95zM896.90,1942.30h19.75v3.95h-19.75zM936.40,1942.30h7.90v3.95h-7.90zM964.05,1942.30h3.95v3.95h-3.95zM971.95,1942.30h11.85v3.95h-11.85zM987.75,1942.30h3.95v3.95h-3.95zM999.60,1942.30h11.85v3.95h-11.85zM896.90,1946.25h11.85v3.95h-11.85zM920.60,1946.25h11.85v3.95h-11.85zM944.30,1946.25h3.95v3.95h-3.95zM952.20,1946.25h11.85v3.95h-11.85zM968.00,1946.25h3.95v3.95h-3.95zM979.85,1946.25h7.90v3.95h-7.90zM995.65,1946.25h11.85v3.95h-11.85zM1011.45,1946.25h3.95v3.95h-3.95zM889.00,1950.20h3.95v3.95h-3.95zM900.85,1950.20h3.95v3.95h-3.95zM912.70,1950.20h3.95v3.95h-3.95zM920.60,1950.20h3.95v3.95h-3.95zM928.50,1950.20h35.55v3.95h-35.55zM968.00,1950.20h3.95v3.95h-3.95zM979.85,1950.20h3.95v3.95h-3.95zM995.65,1950.20h11.85v3.95h-11.85zM1015.40,1950.20h3.95v3.95h-3.95zM889.00,1954.15h15.80v3.95h-15.80zM908.75,1954.15h3.95v3.95h-3.95zM916.65,1954.15h7.90v3.95h-7.90zM928.50,1954.15h7.90v3.95h-7.90zM968.00,1954.15h3.95v3.95h-3.95zM975.90,1954.15h3.95v3.95h-3.95zM987.75,1954.15h7.90v3.95h-7.90zM999.60,1954.15h15.80v3.95h-15.80zM892.95,1958.10h3.95v3.95h-3.95zM900.85,1958.10h3.95v3.95h-3.95zM908.75,1958.10h15.80v3.95h-15.80zM928.50,1958.10h7.90v3.95h-7.90zM944.30,1958.10h31.60v3.95h-31.60zM987.75,1958.10h7.90v3.95h-7.90zM999.60,1958.10h15.80v3.95h-15.80zM889.00,1962.05h3.95v3.95h-3.95zM904.80,1962.05h7.90v3.95h-7.90zM916.65,1962.05h7.90v3.95h-7.90zM936.40,1962.05h7.90v3.95h-7.90zM952.20,1962.05h3.95v3.95h-3.95zM960.10,1962.05h7.90v3.95h-7.90zM983.80,1962.05h11.85v3.95h-11.85zM889.00,1966.00h3.95v3.95h-3.95zM896.90,1966.00h3.95v3.95h-3.95zM904.80,1966.00h3.95v3.95h-3.95zM912.70,1966.00h15.80v3.95h-15.80zM936.40,1966.00h7.90v3.95h-7.90zM952.20,1966.00h7.90v3.95h-7.90zM964.05,1966.00h11.85v3.95h-11.85zM987.75,1966.00h11.85v3.95h-11.85zM1007.50,1966.00h11.85v3.95h-11.85zM892.95,1969.95h7.90v3.95h-7.90zM908.75,1969.95h3.95v3.95h-3.95zM916.65,1969.95h7.90v3.95h-7.90zM928.50,1969.95h3.95v3.95h-3.95zM944.30,1969.95h3.95v3.95h-3.95zM952.20,1969.95h3.95v3.95h-3.95zM960.10,1969.95h7.90v3.95h-7.90zM971.95,1969.95h3.95v3.95h-3.95zM979.85,1969.95h15.80v3.95h-15.80zM1003.55,1969.95h11.85v3.95h-11.85zM889.00,1973.90h15.80v3.95h-15.80zM912.70,1973.90h3.95v3.95h-3.95zM924.55,1973.90h7.90v3.95h-7.90zM940.35,1973.90h3.95v3.95h-3.95zM948.25,1973.90h27.65v3.95h-27.65zM979.85,1973.90h3.95v3.95h-3.95zM987.75,1973.90h7.90v3.95h-7.90zM1003.55,1973.90h15.80v3.95h-15.80zM892.95,1977.85h7.90v3.95h-7.90zM904.80,1977.85h7.90v3.95h-7.90zM920.60,1977.85h11.85v3.95h-11.85zM936.40,1977.85h3.95v3.95h-3.95zM948.25,1977.85h7.90v3.95h-7.90zM964.05,1977.85h3.95v3.95h-3.95zM971.95,1977.85h11.85v3.95h-11.85zM999.60,1977.85h11.85v3.95h-11.85zM889.00,1981.80h15.80v3.95h-15.80zM908.75,1981.80h7.90v3.95h-7.90zM932.45,1981.80h11.85v3.95h-11.85zM948.25,1981.80h7.90v3.95h-7.90zM960.10,1981.80h11.85v3.95h-11.85zM975.90,1981.80h3.95v3.95h-3.95zM983.80,1981.80h23.70v3.95h-23.70zM1011.45,1981.80h7.90v3.95h-7.90zM920.60,1985.75h3.95v3.95h-3.95zM928.50,1985.75h3.95v3.95h-3.95zM936.40,1985.75h15.80v3.95h-15.80zM960.10,1985.75h7.90v3.95h-7.90zM975.90,1985.75h3.95v3.95h-3.95zM983.80,1985.75h3.95v3.95h-3.95zM999.60,1985.75h3.95v3.95h-3.95zM1011.45,1985.75h7.90v3.95h-7.90zM889.00,1989.70h27.65v3.95h-27.65zM920.60,1989.70h3.95v3.95h-3.95zM932.45,1989.70h3.95v3.95h-3.95zM944.30,1989.70h19.75v3.95h-19.75zM971.95,1989.70h15.80v3.95h-15.80zM991.70,1989.70h3.95v3.95h-3.95zM999.60,1989.70h3.95v3.95h-3.95zM1007.50,1989.70h11.85v3.95h-11.85zM889.00,1993.65h3.95v3.95h-3.95zM912.70,1993.65h3.95v3.95h-3.95zM924.55,1993.65h3.95v3.95h-3.95zM932.45,1993.65h7.90v3.95h-7.90zM948.25,1993.65h7.90v3.95h-7.90zM960.10,1993.65h7.90v3.95h-7.90zM971.95,1993.65h3.95v3.95h-3.95zM979.85,1993.65h7.90v3.95h-7.90zM999.60,1993.65h3.95v3.95h-3.95zM1011.45,1993.65h3.95v3.95h-3.95zM889.00,1997.60h3.95v3.95h-3.95zM896.90,1997.60h11.85v3.95h-11.85zM912.70,1997.60h3.95v3.95h-3.95zM928.50,1997.60h7.90v3.95h-7.90zM944.30,1997.60h7.90v3.95h-7.90zM956.15,1997.60h3.95v3.95h-3.95zM971.95,1997.60h3.95v3.95h-3.95zM979.85,1997.60h27.65v3.95h-27.65zM1011.45,1997.60h7.90v3.95h-7.90zM889.00,2001.55h3.95v3.95h-3.95zM896.90,2001.55h11.85v3.95h-11.85zM912.70,2001.55h3.95v3.95h-3.95zM920.60,2001.55h3.95v3.95h-3.95zM936.40,2001.55h7.90v3.95h-7.90zM948.25,2001.55h3.95v3.95h-3.95zM956.15,2001.55h11.85v3.95h-11.85zM971.95,2001.55h7.90v3.95h-7.90zM987.75,2001.55h31.60v3.95h-31.60zM889.00,2005.50h3.95v3.95h-3.95zM896.90,2005.50h11.85v3.95h-11.85zM912.70,2005.50h3.95v3.95h-3.95zM924.55,2005.50h3.95v3.95h-3.95zM932.45,2005.50h3.95v3.95h-3.95zM952.20,2005.50h3.95v3.95h-3.95zM960.10,2005.50h3.95v3.95h-3.95zM971.95,2005.50h3.95v3.95h-3.95zM983.80,2005.50h7.90v3.95h-7.90zM995.65,2005.50h3.95v3.95h-3.95zM1003.55,2005.50h3.95v3.95h-3.95zM1011.45,2005.50h3.95v3.95h-3.95zM889.00,2009.45h3.95v3.95h-3.95zM912.70,2009.45h3.95v3.95h-3.95zM932.45,2009.45h3.95v3.95h-3.95zM940.35,2009.45h3.95v3.95h-3.95zM952.20,2009.45h3.95v3.95h-3.95zM971.95,2009.45h3.95v3.95h-3.95zM983.80,2009.45h3.95v3.95h-3.95zM991.70,2009.45h3.95v3.95h-3.95zM1003.55,2009.45h3.95v3.95h-3.95zM1011.45,2009.45h7.90v3.95h-7.90zM889.00,2013.40h27.65v3.95h-27.65zM920.60,2013.40h15.80v3.95h-15.80zM940.35,2013.40h3.95v3.95h-3.95zM952.20,2013.40h7.90v3.95h-7.90zM964.05,2013.40h23.70v3.95h-23.70zM995.65,2013.40h3.95v3.95h-3.95zM1003.55,2013.40h7.90v3.95h-7.90zM1015.40,2013.40h3.95v3.95h-3.95z" fill="#111"/>
<circle cx="954.2" cy="1952.2" r="21" fill="#fff"/>
<circle cx="954.2" cy="1952.2" r="17" fill="none" stroke="#555" stroke-width="0.8" stroke-dasharray="1.5 1"/>
<rect x="944.2" y="1942.2" width="20" height="15" rx="2" fill="none" stroke="#444" stroke-width="0.9"/>
<ellipse cx="954.2" cy="1949.2" rx="7" ry="5" fill="none" stroke="#444" stroke-width="0.8"/>
<rect x="943.2" y="1958.2" width="22" height="3" fill="#999"/>
<text id="intro0" x="65.2" y="97.9" font-family="'Noto Sans Thai', 'Liberation Sans', sans-serif" font-weight="400" font-size="20.9" fill="#1d1d1b" textLength="627.91" lengthAdjust="spacingAndGlyphs">“สวนดุสิตโพล” มหาวิทยาลัยสวนดุสิต สำรวจความคิดเห็นประชาชนทั่วประเทศ</text>
<text id="intro1" x="68.2" y="126.2" font-family="'Noto Sans Thai', 'Liberation Sans', sans-serif" font-weight="400" font-size="20.9" fill="#1d1d1b" textLength="471.04" lengthAdjust="spacingAndGlyphs">เรื่อง “นโยบายเศรษฐกิจ แบบแจก ช่วยจริงหรือแค่ชั่วคราว”</text>
<text id="intro2" x="63.8" y="154.7" font-family="'Noto Sans Thai', 'Liberation Sans', sans-serif" font-weight="400" font-size="20.9" fill="#1d1d1b" textLength="526.66" lengthAdjust="spacingAndGlyphs">กลุ่มตัวอย่างจำนวน 1,203 คน (สำรวจทางออนไลน์และภาคสนาม)</text>
<text id="intro3" x="64.3" y="183.4" font-family="'Noto Sans Thai', 'Liberation Sans', sans-serif" font-weight="400" font-size="20.9" fill="#1d1d1b" textLength="387.51" lengthAdjust="spacingAndGlyphs">ระหว่างวันที่ 7-10 ตุลาคม 2568 สรุปผลได้ ดังนี้</text>
<text id="t4" x="61.6" y="236.5" font-family="Inter, 'Liberation Sans', sans-serif" font-weight="200" font-size="24.0" fill="#fff" textLength="27.25" lengthAdjust="spacingAndGlyphs" stroke="#000" stroke-width="0.6" paint-order="stroke">01</text>
<text id="h1a" x="57.4" y="299.4" font-family="Kanit, 'Noto Sans Thai', 'Liberation Sans', sans-serif" font-weight="600" font-size="31.0" fill="#000" textLength="417.98" lengthAdjust="spacingAndGlyphs">ประชาชนคิดว่านโยบายเศรษฐกิจ</text>
<text id="h1b" x="57.9" y="333.5" font-family="Kanit, 'Noto Sans Thai', 'Liberation Sans', sans-serif" font-weight="600" font-size="31.0" fill="#000" textLength="362.97" lengthAdjust="spacingAndGlyphs">ของรัฐบาลอนุทินเป็นแบบใด</text>
<text id="t7" x="62.0" y="811.0" font-family="'Liberation Sans', sans-serif" font-weight="400" font-size="11.5" fill="#000" text-anchor="middle">0</text>
<text id="t8" x="150.0" y="811.0" font-family="'Liberation Sans', sans-serif" font-weight="400" font-size="11.5" fill="#000" text-anchor="middle">5</text>
<text id="t9" x="238.0" y="811.0" font-family="'Liberation Sans', sans-serif" font-weight="400" font-size="11.5" fill="#000" text-anchor="middle">10</text>
<text id="t10" x="326.0" y="811.0" font-family="'Liberation Sans', sans-serif" font-weight="400" font-size="11.5" fill="#000" text-anchor="middle">15</text>
<text id="t11" x="414.0" y="811.0" font-family="'Liberation Sans', sans-serif" font-weight="400" font-size="11.5" fill="#000" text-anchor="middle">20</text>
<text id="t12" x="502.0" y="811.0" font-family="'Liberation Sans', sans-serif" font-weight="400" font-size="11.5" fill="#000" text-anchor="middle">25</text>
<text id="t13" x="590.0" y="811.0" font-family="'Liberation Sans', sans-serif" font-weight="400" font-size="11.5" fill="#000" text-anchor="middle">30</text>
<text id="b1l" x="78.1" y="445.6" font-family="'Noto Sans Thai', 'Liberation Sans', sans-serif" font-weight="400" font-size="27.9" fill="#fff" textLength="279.91" lengthAdjust="spacingAndGlyphs">เน้นแจกเงินหรือช่วยเฉพาะหน้า</text>
<text id="b2l" x="78.7" y="545.3" font-family="'Noto Sans Thai', 'Liberation Sans', sans-serif" font-weight="400" font-size="27.9" fill="#fff" textLength="229.65" lengthAdjust="spacingAndGlyphs">ยังไม่เห็นแนวทางที่ชัดเจน</text>
<text id="b3l" x="78.6" y="628.0" font-family="'Noto Sans Thai', 'Liberation Sans', sans-serif" font-weight="400" font-size="26.0" fill="#000" textLength="267.99" lengthAdjust="spacingAndGlyphs">ทั้งแจกและพัฒนาไปพร้อมกัน</text>
<text id="b4l" x="78.8" y="720.0" font-family="'Noto Sans Thai', 'Liberation Sans', sans-serif" font-weight="400" font-size="26.0" fill="#000" textLength="319.78" lengthAdjust="spacingAndGlyphs">สร้างงาน และเพิ่มรายได้ในระยะยาว</text>
<text id="b1nd" x="372.8" y="460.7" font-family="Montserrat, 'Liberation Sans', sans-serif" font-weight="700" font-size="57.5" fill="#fff" textLength="153.00" lengthAdjust="spacingAndGlyphs" letter-spacing="4.03">29.51</text>
<text id="b1np" x="523.4" y="460.7" font-family="Montserrat, 'Liberation Sans', sans-serif" font-weight="700" font-size="43.1" fill="#fff" textLength="32.99" lengthAdjust="spacingAndGlyphs">%</text>
<text id="b2nd" x="345.2" y="551.7" font-family="Montserrat, 'Liberation Sans', sans-serif" font-weight="700" font-size="57.5" fill="#fff" textLength="164.42" lengthAdjust="spacingAndGlyphs" letter-spacing="4.03">28.26</text>
<text id="b2np" x="510.4" y="551.7" font-family="Montserrat, 'Liberation Sans', sans-serif" font-weight="700" font-size="43.1" fill="#fff" textLength="32.77" lengthAdjust="spacingAndGlyphs">%</text>
<text id="b3nd" x="257.4" y="672.8" font-family="Montserrat, 'Liberation Sans', sans-serif" font-weight="700" font-size="55.6" fill="#000" textLength="151.18" lengthAdjust="spacingAndGlyphs" letter-spacing="3.89">21.86</text>
<text id="b3np" x="410.9" y="672.8" font-family="Montserrat, 'Liberation Sans', sans-serif" font-weight="700" font-size="41.7" fill="#000" textLength="32.15" lengthAdjust="spacingAndGlyphs">%</text>
<text id="b4nd" x="217.7" y="767.0" font-family="Montserrat, 'Liberation Sans', sans-serif" font-weight="700" font-size="56.7" fill="#000" textLength="166.65" lengthAdjust="spacingAndGlyphs" letter-spacing="3.97">20.37</text>
<text id="b4np" x="382.7" y="767.0" font-family="Montserrat, 'Liberation Sans', sans-serif" font-weight="700" font-size="42.4" fill="#000" textLength="31.31" lengthAdjust="spacingAndGlyphs">%</text>
<text id="ti1" x="803.8" y="132.2" font-family="Kanit, sans-serif" font-weight="800" font-size="92.0" fill="#000" textLength="698.62" lengthAdjust="spacing" stroke="#fff" stroke-width="16" stroke-linejoin="round" paint-order="stroke" filter="url(#tsh)">นโยบายเศรษฐกิจ</text>
<text id="ti2" x="808.3" y="272.2" font-family="Kanit, sans-serif" font-weight="700" font-size="176.0" fill="#9b0c10" textLength="701.46" lengthAdjust="spacing" stroke="#fff" stroke-width="18" stroke-linejoin="round" paint-order="stroke" filter="url(#tsh)">แบบแจก</text>
<text id="ti3" x="800.1" y="358.5" font-family="Kanit, sans-serif" font-weight="800" font-size="72.7" fill="#000" textLength="710.20" lengthAdjust="spacing" stroke="#fff" stroke-width="15" stroke-linejoin="round" paint-order="stroke" filter="url(#tsh)">ช่วยจริงหรือแค่ชั่วคราว</text>
<text id="t29" x="1081.0" y="419.0" font-family="Inter, 'Liberation Sans', sans-serif" font-weight="200" font-size="24.0" fill="#fff" textLength="25.89" lengthAdjust="spacingAndGlyphs" stroke="#000" stroke-width="0.6" paint-order="stroke">02</text>
<text id="h2a" x="1079.7" y="473.8" font-family="Kanit, 'Noto Sans Thai', 'Liberation Sans', sans-serif" font-weight="600" font-size="29.6" fill="#000" textLength="158.85" lengthAdjust="spacingAndGlyphs">นโยบายแบบ</text>
<text id="h2b" x="1080.1" y="508.8" font-family="Kanit, 'Noto Sans Thai', 'Liberation Sans', sans-serif" font-weight="600" font-size="29.6" fill="#000" textLength="357.28" lengthAdjust="spacingAndGlyphs">“แจกเงิน–ลดภาระชั่วคราว”</text>
<text id="h2c" x="1080.2" y="543.8" font-family="Kanit, 'Noto Sans Thai', 'Liberation Sans', sans-serif" font-weight="600" font-size="29.6" fill="#000" textLength="299.64" lengthAdjust="spacingAndGlyphs">ช่วยกระตุ้นเศรษฐกิจได้</text>
<text id="h2d" x="1079.6" y="581.3" font-family="Kanit, 'Noto Sans Thai', 'Liberation Sans', sans-serif" font-weight="600" font-size="29.6" fill="#000" textLength="211.50" lengthAdjust="spacingAndGlyphs">มากน้อยเพียงใด</text>
<text id="d1l" x="1357.0" y="679.3" font-family="'Noto Sans Thai', 'Liberation Sans', sans-serif" font-weight="400" font-size="26.3" fill="#000" textLength="184.54" lengthAdjust="spacingAndGlyphs">ช่วยได้ในระยะสั้น</text>
<text id="d1nd" x="1355.9" y="730.0" font-family="Montserrat, 'Liberation Sans', sans-serif" font-weight="700" font-size="56.0" fill="#000" textLength="166.18" lengthAdjust="spacingAndGlyphs" letter-spacing="3.92">80.72</text>
<text id="d1np" x="1523.2" y="730.0" font-family="Montserrat, 'Liberation Sans', sans-serif" font-weight="700" font-size="42.1" fill="#000" textLength="29.76" lengthAdjust="spacingAndGlyphs">%</text>
<text id="d2l" x="1356.9" y="811.0" font-family="'Noto Sans Thai', 'Liberation Sans', sans-serif" font-weight="400" font-size="26.3" fill="#000" textLength="121.45" lengthAdjust="spacingAndGlyphs">ช่วยได้มาก</text>
<text id="d2nd" x="1358.4" y="861.0" font-family="Montserrat, 'Liberation Sans', sans-serif" font-weight="700" font-size="54.9" fill="#000" textLength="136.96" lengthAdjust="spacingAndGlyphs" letter-spacing="3.85">11.64</text>
<text id="d2np" x="1497.1" y="861.0" font-family="Montserrat, 'Liberation Sans', sans-serif" font-weight="700" font-size="41.7" fill="#000" textLength="30.62" lengthAdjust="spacingAndGlyphs">%</text>
<text id="d3l" x="1358.3" y="925.6" font-family="'Noto Sans Thai', 'Liberation Sans', sans-serif" font-weight="400" font-size="26.3" fill="#000" textLength="111.81" lengthAdjust="spacingAndGlyphs">ไม่ช่วยเลย</text>
<text id="d3nd" x="1358.2" y="969.0" font-family="Montserrat, 'Liberation Sans', sans-serif" font-weight="700" font-size="53.8" fill="#000" textLength="123.28" lengthAdjust="spacingAndGlyphs" letter-spacing="3.77">7.64</text>
<text id="d3np" x="1482.9" y="969.0" font-family="Montserrat, 'Liberation Sans', sans-serif" font-weight="700" font-size="41.0" fill="#000" textLength="29.87" lengthAdjust="spacingAndGlyphs">%</text>
<text id="t43" x="72.1" y="1035.5" font-family="Inter, 'Liberation Sans', sans-serif" font-weight="200" font-size="24.0" fill="#fff" textLength="25.44" lengthAdjust="spacingAndGlyphs" stroke="#000" stroke-width="0.6" paint-order="stroke">03</text>
<text id="h3a" x="69.5" y="1096.5" font-family="Kanit, 'Noto Sans Thai', 'Liberation Sans', sans-serif" font-weight="600" font-size="31.0" fill="#000" textLength="364.89" lengthAdjust="spacingAndGlyphs">ถ้ารัฐบาลมีงบประมาณจำกัด</text>
<text id="h3b" x="68.8" y="1132.0" font-family="Kanit, 'Noto Sans Thai', 'Liberation Sans', sans-serif" font-weight="600" font-size="31.0" fill="#000" textLength="389.12" lengthAdjust="spacingAndGlyphs">ประชาชนอยากให้ใช้กับเรื่องใด</text>
<text id="h3c" x="69.0" y="1167.4" font-family="Kanit, 'Noto Sans Thai', 'Liberation Sans', sans-serif" font-weight="600" font-size="31.0" fill="#000" textLength="113.51" lengthAdjust="spacingAndGlyphs">มากที่สุด</text>
<text id="t47" x="66.0" y="1238.7" font-family="'Liberation Sans', sans-serif" font-weight="400" font-size="16.5" fill="#111" text-anchor="end">60</text>
<text id="t48" x="66.0" y="1545.2" font-family="'Liberation Sans', sans-serif" font-weight="400" font-size="16.5" fill="#111" text-anchor="end">50</text>
<text id="t49" x="66.0" y="1850.7" font-family="'Liberation Sans', sans-serif" font-weight="400" font-size="16.5" fill="#111" text-anchor="end">40</text>
<text id="a31a" x="130.0" y="1228.6" font-family="'Noto Sans Thai', 'Liberation Sans', sans-serif" font-weight="400" font-size="24.5" fill="#000" textLength="282.26" lengthAdjust="spacingAndGlyphs">ลงทุนจัดการปัญหาสิ่งแวดล้อม</text>
<text id="a31b" x="128.9" y="1259.6" font-family="'Noto Sans Thai', 'Liberation Sans', sans-serif" font-weight="400" font-size="24.5" fill="#000" textLength="332.18" lengthAdjust="spacingAndGlyphs">และภัยธรรมชาติ เช่น น้ำท่วม ภัยแล้ง</text>
<text id="a31nd" x="131.6" y="1318.0" font-family="Montserrat, 'Liberation Sans', sans-serif" font-weight="700" font-size="61.6" fill="#000" textLength="177.79" lengthAdjust="spacingAndGlyphs" letter-spacing="4.32">53.72</text>
<text id="a31np" x="308.7" y="1318.0" font-family="Montserrat, 'Liberation Sans', sans-serif" font-weight="700" font-size="47.2" fill="#000" textLength="37.43" lengthAdjust="spacingAndGlyphs">%</text>
<text id="a32a" x="127.9" y="1555.3" font-family="'Noto Sans Thai', 'Liberation Sans', sans-serif" font-weight="400" font-size="24.5" fill="#000" textLength="119.09" lengthAdjust="spacingAndGlyphs">พัฒนาอาชีพ</text>
<text id="a32b" x="127.6" y="1586.3" font-family="'Noto Sans Thai', 'Liberation Sans', sans-serif" font-weight="400" font-size="24.5" fill="#000" textLength="185.01" lengthAdjust="spacingAndGlyphs">สร้างรายได้ระยะยาว</text>
<text id="a32nd" x="129.8" y="1642.9" font-family="Montserrat, 'Liberation Sans', sans-serif" font-weight="700" font-size="63.4" fill="#000" textLength="170.45" lengthAdjust="spacingAndGlyphs" letter-spacing="4.44">51.96</text>
<text id="a32np" x="301.5" y="1642.9" font-family="Montserrat, 'Liberation Sans', sans-serif" font-weight="700" font-size="47.9" fill="#000" textLength="37.28" lengthAdjust="spacingAndGlyphs">%</text>
<text id="a33a" x="287.5" y="1712.2" font-family="'Noto Sans Thai', 'Liberation Sans', sans-serif" font-weight="400" font-size="24.5" fill="#000" textLength="215.39" lengthAdjust="spacingAndGlyphs">ลงทุนโครงสร้างพื้นฐาน</text>
<text id="a33b" x="287.5" y="1743.6" font-family="'Noto Sans Thai', 'Liberation Sans', sans-serif" font-weight="400" font-size="24.5" fill="#000" textLength="222.12" lengthAdjust="spacingAndGlyphs">กระตุ้นเศรษฐกิจโดยรวม</text>
<text id="a33nd" x="283.2" y="1802.5" font-family="Montserrat, 'Liberation Sans', sans-serif" font-weight="700" font-size="62.9" fill="#000" textLength="183.77" lengthAdjust="spacingAndGlyphs" letter-spacing="4.40">49.37</text>
<text id="a33np" x="465.1" y="1802.5" font-family="Montserrat, 'Liberation Sans', sans-serif" font-weight="700" font-size="47.9" fill="#000" textLength="37.30" lengthAdjust="spacingAndGlyphs">%</text>
<text id="t62" x="583.5" y="1035.0" font-family="Inter, 'Liberation Sans', sans-serif" font-weight="200" font-size="24.0" fill="#fff" textLength="25.43" lengthAdjust="spacingAndGlyphs" stroke="#000" stroke-width="0.6" paint-order="stroke">04</text>
<text id="h4a" x="580.1" y="1096.5" font-family="Kanit, 'Noto Sans Thai', 'Liberation Sans', sans-serif" font-weight="600" font-size="31.0" fill="#000" textLength="280.38" lengthAdjust="spacingAndGlyphs">ประชาชนคิดว่ารัฐบาล</text>
<text id="h4b" x="580.3" y="1132.0" font-family="Kanit, 'Noto Sans Thai', 'Liberation Sans', sans-serif" font-weight="600" font-size="31.0" fill="#000" textLength="367.44" lengthAdjust="spacingAndGlyphs">ควรแก้ปัญหาน้ำท่วมอย่างไร</text>
<text id="h4c" x="581.0" y="1167.4" font-family="Kanit, 'Noto Sans Thai', 'Liberation Sans', sans-serif" font-weight="600" font-size="31.0" fill="#000" textLength="271.07" lengthAdjust="spacingAndGlyphs">จึงจะคุ้มค่าและยั่งยืน</text>
<text id="t66" x="598.0" y="1240.2" font-family="'Liberation Sans', sans-serif" font-weight="400" font-size="16.5" fill="#111" text-anchor="end">80</text>
<text id="t67" x="598.0" y="1444.0" font-family="'Liberation Sans', sans-serif" font-weight="400" font-size="16.5" fill="#111" text-anchor="end">70</text>
<text id="t68" x="598.0" y="1648.0" font-family="'Liberation Sans', sans-serif" font-weight="400" font-size="16.5" fill="#111" text-anchor="end">60</text>
<text id="t69" x="598.0" y="1850.4" font-family="'Liberation Sans', sans-serif" font-weight="400" font-size="16.5" fill="#111" text-anchor="end">50</text>
<text id="a41nd" x="669.1" y="1281.0" font-family="Montserrat, 'Liberation Sans', sans-serif" font-weight="700" font-size="63.6" fill="#000" textLength="168.74" lengthAdjust="spacingAndGlyphs" letter-spacing="4.45">67.17</text>
<text id="a41np" x="835.6" y="1281.0" font-family="Montserrat, 'Liberation Sans', sans-serif" font-weight="700" font-size="47.9" fill="#000" textLength="38.27" lengthAdjust="spacingAndGlyphs">%</text>
<text id="a41a" x="675.6" y="1311.6" font-family="'Noto Sans Thai', 'Liberation Sans', sans-serif" font-weight="400" font-size="24.5" fill="#000" textLength="245.31" lengthAdjust="spacingAndGlyphs">จัดทำแผนบริหารจัดการน้ำ</text>
<text id="a41b" x="674.4" y="1342.3" font-family="'Noto Sans Thai', 'Liberation Sans', sans-serif" font-weight="400" font-size="24.5" fill="#000" textLength="250.43" lengthAdjust="spacingAndGlyphs">แบบบูรณาการระดับประเทศ</text>
<text id="a42nd" x="810.5" y="1417.0" font-family="Montserrat, 'Liberation Sans', sans-serif" font-weight="700" font-size="63.7" fill="#000" textLength="184.13" lengthAdjust="spacingAndGlyphs" letter-spacing="4.46">58.23</text>
<text id="a42np" x="993.7" y="1417.0" font-family="Montserrat, 'Liberation Sans', sans-serif" font-weight="700" font-size="47.9" fill="#000" textLength="37.68" lengthAdjust="spacingAndGlyphs">%</text>
<text id="a42a" x="809.9" y="1446.2" font-family="'Noto Sans Thai', 'Liberation Sans', sans-serif" font-weight="400" font-size="24.5" fill="#000" textLength="101.61" lengthAdjust="spacingAndGlyphs">ลงทุนสร้าง</text>
<text id="a42b" x="810.1" y="1477.7" font-family="'Noto Sans Thai', 'Liberation Sans', sans-serif" font-weight="400" font-size="24.5" fill="#000" textLength="182.22" lengthAdjust="spacingAndGlyphs">ระบบป้องกันน้ำท่วม</text>
<text id="a42c" x="810.1" y="1509.2" font-family="'Noto Sans Thai', 'Liberation Sans', sans-serif" font-weight="400" font-size="24.5" fill="#000" textLength="171.92" lengthAdjust="spacingAndGlyphs">ระยะยาว เช่น เขื่อน</text>
<text id="a42d" x="808.9" y="1540.7" font-family="'Noto Sans Thai', 'Liberation Sans', sans-serif" font-weight="400" font-size="24.5" fill="#000" textLength="178.23" lengthAdjust="spacingAndGlyphs">แก้มลิง บายพาสน้ำ</text>
<text id="a43nd" x="628.1" y="1733.5" font-family="Montserrat, 'Liberation Sans', sans-serif" font-weight="700" font-size="63.4" fill="#000" textLength="186.08" lengthAdjust="spacingAndGlyphs" letter-spacing="4.44">54.05</text>
<text id="a43np" x="814.5" y="1733.5" font-family="Montserrat, 'Liberation Sans', sans-serif" font-weight="700" font-size="47.9" fill="#000" textLength="37.30" lengthAdjust="spacingAndGlyphs">%</text>
<text id="a43a" x="630.8" y="1769.2" font-family="'Noto Sans Thai', 'Liberation Sans', sans-serif" font-weight="400" font-size="24.5" fill="#000" textLength="222.95" lengthAdjust="spacingAndGlyphs">ฟื้นฟูอาชีพและเศรษฐกิจ</text>
<text id="a43b" x="631.5" y="1809.1" font-family="'Noto Sans Thai', 'Liberation Sans', sans-serif" font-weight="400" font-size="24.5" fill="#000" textLength="227.61" lengthAdjust="spacingAndGlyphs">ในพื้นที่น้ำท่วมหลังน้ำลด</text>
<text id="t84" x="1074.3" y="1035.5" font-family="Inter, 'Liberation Sans', sans-serif" font-weight="200" font-size="24.0" fill="#fff" textLength="25.59" lengthAdjust="spacingAndGlyphs" stroke="#000" stroke-width="0.6" paint-order="stroke">05</text>
<text id="h5a" x="1071.6" y="1097.8" font-family="Kanit, 'Noto Sans Thai', 'Liberation Sans', sans-serif" font-weight="600" font-size="31.0" fill="#000" textLength="305.14" lengthAdjust="spacingAndGlyphs">ณ วันนี้ ประชาชนคิดว่า</text>
<text id="h5b" x="1071.8" y="1133.8" font-family="Kanit, 'Noto Sans Thai', 'Liberation Sans', sans-serif" font-weight="600" font-size="31.0" fill="#000" textLength="223.03" lengthAdjust="spacingAndGlyphs">พรรคการเมืองใด</text>
<text id="h5c" x="1071.0" y="1168.7" font-family="Kanit, 'Noto Sans Thai', 'Liberation Sans', sans-serif" font-weight="600" font-size="31.0" fill="#000" textLength="328.84" lengthAdjust="spacingAndGlyphs">ที่จะแก้ปัญหาเศรษฐกิจได้</text>
<text id="t88" x="1071.3" y="1868.9" font-family="'Liberation Sans', sans-serif" font-weight="400" font-size="16.5" fill="#111" text-anchor="end">0</text>
<text id="t89" x="1188.5" y="1868.9" font-family="'Liberation Sans', sans-serif" font-weight="400" font-size="16.5" fill="#111" text-anchor="end">5</text>
<text id="t90" x="1305.8" y="1868.9" font-family="'Liberation Sans', sans-serif" font-weight="400" font-size="16.5" fill="#111" text-anchor="end">10</text>
<text id="t91" x="1422.7" y="1868.9" font-family="'Liberation Sans', sans-serif" font-weight="400" font-size="16.5" fill="#111" text-anchor="end">15</text>
<text id="t92" x="1539.3" y="1868.9" font-family="'Liberation Sans', sans-serif" font-weight="400" font-size="16.5" fill="#111" text-anchor="end">20</text>
<text id="p5l0" x="1080.4" y="1256.1" font-family="'Noto Sans Thai', 'Liberation Sans', sans-serif" font-weight="400" font-size="28.0" fill="#fff" textLength="84.14" lengthAdjust="spacingAndGlyphs">ภูมิใจไทย</text>
<text id="p5n0" x="1257.1" y="1260.4" font-family="Montserrat, 'Liberation Sans', sans-serif" font-weight="700" font-size="36.4" fill="#fff" textLength="135.34" lengthAdjust="spacingAndGlyphs" letter-spacing="2.55">19.87%</text>
<text id="p5l1" x="1079.0" y="1310.3" font-family="'Noto Sans Thai', 'Liberation Sans', sans-serif" font-weight="400" font-size="28.0" fill="#fff" textLength="85.92" lengthAdjust="spacingAndGlyphs">ประชาชน</text>
<text id="p5n1" x="1257.1" y="1312.4" font-family="Montserrat, 'Liberation Sans', sans-serif" font-weight="700" font-size="36.4" fill="#fff" textLength="131.14" lengthAdjust="spacingAndGlyphs" letter-spacing="2.55">17.37%</text>
<text id="p5l2" x="1079.3" y="1362.0" font-family="'Noto Sans Thai', 'Liberation Sans', sans-serif" font-weight="400" font-size="28.0" fill="#fff" textLength="157.61" lengthAdjust="spacingAndGlyphs">ยังไม่เชื่อพรรคใด</text>
<text id="p5n2" x="1257.1" y="1364.5" font-family="Montserrat, 'Liberation Sans', sans-serif" font-weight="700" font-size="36.4" fill="#fff" textLength="135.35" lengthAdjust="spacingAndGlyphs" letter-spacing="2.55">16.63%</text>
<text id="p5l3" x="1078.5" y="1414.4" font-family="'Noto Sans Thai', 'Liberation Sans', sans-serif" font-weight="400" font-size="28.0" fill="#fff" textLength="75.30" lengthAdjust="spacingAndGlyphs">เพื่อไทย</text>
<text id="p5n3" x="1257.1" y="1416.6" font-family="Montserrat, 'Liberation Sans', sans-serif" font-weight="700" font-size="36.4" fill="#fff" textLength="123.75" lengthAdjust="spacingAndGlyphs" letter-spacing="2.55">13.13%</text>
<text id="g5l0" x="1261.9" y="1467.5" font-family="'Noto Sans Thai', 'Liberation Sans', sans-serif" font-weight="400" font-size="27.0" fill="#000" textLength="126.01" lengthAdjust="spacingAndGlyphs">พลังประชารัฐ</text>
<text id="g5n0" x="1426.5" y="1472.2" font-family="Montserrat, 'Liberation Sans', sans-serif" font-weight="700" font-size="35.9" fill="#000" textLength="107.31" lengthAdjust="spacingAndGlyphs" letter-spacing="2.51">5.15%</text>
<text id="g5l1" x="1263.1" y="1522.8" font-family="'Noto Sans Thai', 'Liberation Sans', sans-serif" font-weight="400" font-size="27.0" fill="#000" textLength="107.73" lengthAdjust="spacingAndGlyphs">ไทยก้าวใหม่</text>
<text id="g5n1" x="1425.3" y="1522.8" font-family="Montserrat, 'Liberation Sans', sans-serif" font-weight="700" font-size="35.9" fill="#000" textLength="115.70" lengthAdjust="spacingAndGlyphs" letter-spacing="2.51">4.24%</text>
<text id="g5l2" x="1261.4" y="1570.6" font-family="'Noto Sans Thai', 'Liberation Sans', sans-serif" font-weight="400" font-size="27.0" fill="#000" textLength="139.69" lengthAdjust="spacingAndGlyphs">ชาติไทยพัฒนา</text>
<text id="g5n2" x="1426.9" y="1574.4" font-family="Montserrat, 'Liberation Sans', sans-serif" font-weight="700" font-size="35.9" fill="#000" textLength="107.66" lengthAdjust="spacingAndGlyphs" letter-spacing="2.51">3.41%</text>
<text id="g5l3" x="1262.0" y="1625.0" font-family="'Noto Sans Thai', 'Liberation Sans', sans-serif" font-weight="400" font-size="27.0" fill="#000" textLength="159.64" lengthAdjust="spacingAndGlyphs">รวมไทยสร้างชาติ</text>
<text id="g5n3" x="1426.9" y="1625.0" font-family="Montserrat, 'Liberation Sans', sans-serif" font-weight="700" font-size="35.9" fill="#000" textLength="114.19" lengthAdjust="spacingAndGlyphs" letter-spacing="2.51">3.24%</text>
<text id="g5l4" x="1261.1" y="1674.4" font-family="'Noto Sans Thai', 'Liberation Sans', sans-serif" font-weight="400" font-size="27.0" fill="#000" textLength="114.19" lengthAdjust="spacingAndGlyphs">ประชาธิปัตย์</text>
<text id="g5n4" x="1426.9" y="1677.2" font-family="Montserrat, 'Liberation Sans', sans-serif" font-weight="700" font-size="35.9" fill="#000" textLength="107.75" lengthAdjust="spacingAndGlyphs" letter-spacing="2.51">3.16%</text>
<text id="g5l5" x="1261.5" y="1726.0" font-family="'Noto Sans Thai', 'Liberation Sans', sans-serif" font-weight="400" font-size="27.0" fill="#000" textLength="104.80" lengthAdjust="spacingAndGlyphs">ชาติพัฒนา</text>
<text id="g5n5" x="1426.9" y="1727.8" font-family="Montserrat, 'Liberation Sans', sans-serif" font-weight="700" font-size="35.9" fill="#000" textLength="118.18" lengthAdjust="spacingAndGlyphs" letter-spacing="2.51">2.99%</text>
<text id="g5l6" x="1265.6" y="1774.7" font-family="'Noto Sans Thai', 'Liberation Sans', sans-serif" font-weight="400" font-size="27.0" fill="#000" textLength="91.37" lengthAdjust="spacingAndGlyphs">กล้าธรรม</text>
<text id="g5n6" x="1426.9" y="1779.4" font-family="Montserrat, 'Liberation Sans', sans-serif" font-weight="700" font-size="35.9" fill="#000" textLength="118.18" lengthAdjust="spacingAndGlyphs" letter-spacing="2.51">2.99%</text>
<text id="g5l7" x="1266.3" y="1820.6" font-family="'Noto Sans Thai', 'Liberation Sans', sans-serif" font-weight="400" font-size="27.0" fill="#000" textLength="102.78" lengthAdjust="spacingAndGlyphs">พรรคอื่น ๆ</text>
<text id="g5n7" x="1425.3" y="1830.0" font-family="Montserrat, 'Liberation Sans', sans-serif" font-weight="700" font-size="35.9" fill="#000" textLength="118.89" lengthAdjust="spacingAndGlyphs" letter-spacing="2.51">7.82%</text>
<text id="f1" x="207.9" y="1976.0" font-family="'Noto Sans Thai', 'Liberation Sans', sans-serif" font-weight="400" font-size="21.0" fill="#fff" textLength="391.24" lengthAdjust="spacingAndGlyphs">สามารถติดตามผลการสำรวจของสวนดุสิตโพล ได้ที่</text>
<text id="f2" x="206.2" y="2012.5" font-family="Montserrat, 'Liberation Sans', sans-serif" font-weight="400" font-size="28.0" fill="#fff" textLength="387.43" lengthAdjust="spacingAndGlyphs">https://dusitpoll.dusit.ac.th</text>
<text id="n1" x="1107.4" y="1901.7" font-family="'Noto Sans Thai', 'Liberation Sans', sans-serif" font-weight="400" font-size="18.8" fill="#111" textLength="66.74" lengthAdjust="spacingAndGlyphs">หมายเหตุ</text>
<text id="n2" x="1107.7" y="1924.0" font-family="'Noto Sans Thai', 'Liberation Sans', sans-serif" font-weight="400" font-size="18.8" fill="#111" textLength="438.99" lengthAdjust="spacingAndGlyphs">ข้อ 3 และ ข้อ 4 ผู้ตอบสามารถระบุความคิดเห็นได้มากกว่า 1 เรื่อง</text>
<text id="n3" x="1108.2" y="1946.4" font-family="'Noto Sans Thai', 'Liberation Sans', sans-serif" font-weight="400" font-size="18.8" fill="#111" textLength="215.26" lengthAdjust="spacingAndGlyphs">(ค่าร้อยละจึงคำนวณในแต่ละข้อ)</text>
<text id="c1" x="1051.2" y="2020.0" font-family="'Noto Sans Thai', 'Liberation Sans', sans-serif" font-weight="400" font-size="23.0" fill="#fff" textLength="212.58" lengthAdjust="spacingAndGlyphs">ออกแบบอินโฟกราฟิก :</text>
<text id="c2" x="1271.7" y="2020.0" font-family="Kanit, 'Noto Sans Thai', 'Liberation Sans', sans-serif" font-weight="600" font-size="23.0" fill="#fff" textLength="218.10" lengthAdjust="spacingAndGlyphs">ผศ.ดร.วรัตต์ อินทสระ</text>
</svg></body></html>
